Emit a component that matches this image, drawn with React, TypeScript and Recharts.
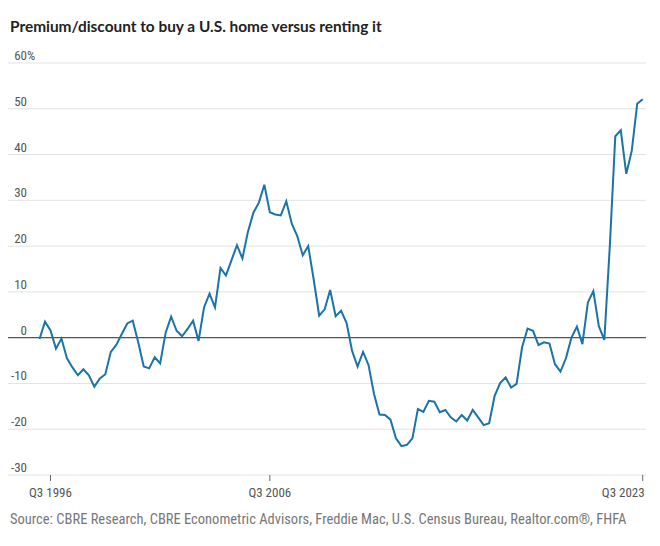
import React from 'react';
import { LineChart, Line, XAxis, YAxis, CartesianGrid, ReferenceLine } from 'recharts';

// quarterly, Q1 1996 .. Q3 2023 (premium/discount in %)
const VALUES = [
  -0.3, 3.5, 1.6, -2.4, -0.2, -4.5, -6.5, -8.2, -6.9, -8.2,
  -10.7, -8.9, -8.0, -3.1, -1.6, 0.8, 3.1, 3.7, -1.0, -6.3,
  -6.7, -4.3, -5.6, 1.1, 4.6, 1.5, 0.3, 1.9, 3.7, -0.7,
  6.6, 9.6, 6.6, 15.2, 13.6, 16.9, 20.2, 17.3, 23.1, 27.3,
  29.5, 33.4, 27.4, 26.9, 26.7, 29.8, 24.9, 22.2, 18.0, 20.0,
  12.7, 4.8, 6.2, 10.4, 4.7, 5.9, 3.2, -2.9, -6.3, -3.1,
  -6.0, -12.3, -16.8, -16.9, -17.9, -22.0, -23.7, -23.4, -22.0, -15.6,
  -16.2, -13.8, -14.0, -16.3, -15.8, -17.4, -18.3, -16.9, -18.1, -15.8,
  -17.4, -19.1, -18.7, -12.7, -9.9, -8.7, -10.9, -10.1, -2.1, 2.0,
  1.5, -1.6, -1.0, -1.3, -5.8, -7.4, -4.5, 0.0, 2.4, -1.4,
  7.7, 10.2, 2.5, -0.5, 20.0, 44.0, 45.3, 35.8, 40.8, 51.1,
  52.1,
];

const X_TICKS = [2, 42, 110];
const X_TICK_LABELS = ['Q3 1996', 'Q3 2006', 'Q3 2023'];
const Y_TICKS = [-30, -20, -10, 0, 10, 20, 30, 40, 50, 60];

const data = VALUES.map((v, i) => ({ idx: i, value: v }));

const LABEL_FONT = "'Liberation Sans Narrow', 'Roboto Condensed', Lato, sans-serif";

const YTick = (props: any) => {
  const { y, payload } = props;
  return (
    <g>
      <text x={27} y={y - 3} textAnchor="end" fontSize={13} fill="#555" fontFamily={LABEL_FONT}>
        {payload.value}
      </text>
      {payload.value === 60 && (
        <text x={27} y={y - 3} textAnchor="start" fontSize={13} fill="#555" fontFamily={LABEL_FONT}>
          %
        </text>
      )}
    </g>
  );
};

const XTick = (props: any) => {
  const { x, y, payload } = props;
  const i = X_TICKS.indexOf(payload.value);
  const last = i === X_TICKS.length - 1;
  return (
    <g>
      <line x1={x} x2={x} y1={y - 8} y2={y - 2} stroke="#666" />
      <text
        x={last ? x + 2 : x}
        y={y + 14}
        textAnchor={last ? 'end' : 'middle'}
        fontSize={13}
        fill="#555"
        fontFamily={LABEL_FONT}
      >
        {X_TICK_LABELS[i]}
      </text>
    </g>
  );
};

export default function App() {
  return (
    <div style={{ position: 'absolute', left: 0, top: 0, width: 660, height: 546, background: '#fff' }}>
      <div
        style={{
          position: 'absolute',
          left: 10,
          top: 17,
          fontFamily: "Lato, 'Noto Sans', sans-serif",
          fontWeight: 700,
          fontSize: 15.4,
          color: '#222',
          whiteSpace: 'nowrap',
        }}
      >
        Premium/discount to buy a U.S. home versus renting it
      </div>
      <div style={{ position: 'absolute', left: 0, top: 0 }}>
        <LineChart
          width={660}
          height={546}
          data={data}
          margin={{ top: 63, right: 14, bottom: 41, left: 7 }}
        >
          <CartesianGrid vertical={false} stroke="#e2e2e2" />
          <XAxis
            dataKey="idx"
            type="number"
            domain={[-5.75, 110.6]}
            allowDataOverflow
            ticks={X_TICKS}
            tick={<XTick />}
            tickLine={false}
            axisLine={false}
            height={30}
            interval={0}
          />
          <YAxis
            domain={[-30, 60]}
            ticks={Y_TICKS}
            width={1}
            tick={<YTick />}
            tickLine={false}
            axisLine={false}
            interval={0}
          />
          <ReferenceLine y={0} stroke="#555" strokeWidth={1.2} />
          <Line
            type="linear"
            dataKey="value"
            stroke="#1a74a6"
            strokeWidth={2}
            dot={false}
            isAnimationActive={false}
          />
        </LineChart>
      </div>
      <div
        style={{
          position: 'absolute',
          left: 10,
          top: 511,
          fontFamily: LABEL_FONT,
          fontSize: 14.5,
          color: '#777',
          whiteSpace: 'nowrap',
        }}
      >
        Source: CBRE Research, CBRE Econometric Advisors, Freddie Mac, U.S. Census Bureau, Realtor.com®, FHFA
      </div>
    </div>
  );
}
